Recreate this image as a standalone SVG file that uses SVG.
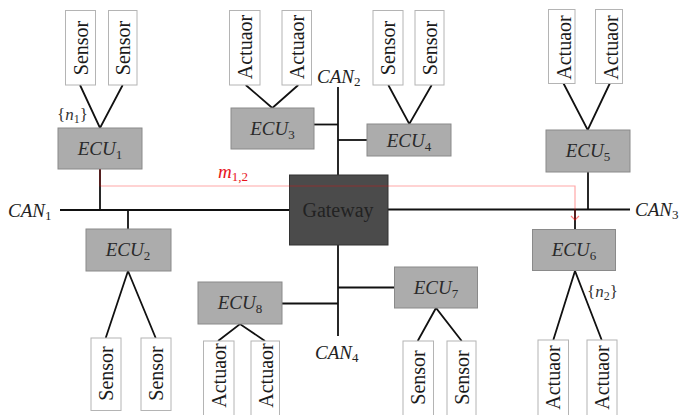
<svg xmlns="http://www.w3.org/2000/svg" width="697" height="415" viewBox="0 0 697 415" font-family="'Liberation Serif', 'DejaVu Serif', serif">
  <defs>
    <style>
      text { font-family: 'Liberation Serif', 'DejaVu Serif', serif; }
      .dev { fill: #ffffff; stroke: #b4b4b4; stroke-width: 1; }
      .dev-t { font-size: 20px; fill: #1a1a1a; text-anchor: middle; }
      .ecu { fill: #acacac; stroke: #8a8a8a; stroke-width: 1; }
      .ecu-t { font-size: 19px; font-style: italic; fill: #2a2a2a; text-anchor: middle; }
      .gw { fill: #4b4b4b; stroke: #333333; stroke-width: 1; }
      .gw-t { font-size: 20px; fill: #222222; text-anchor: middle; }
      .sub { font-style: normal; font-size: 13px; }
      .bus-t { font-size: 19px; font-style: italic; fill: #222222; }
      .set-t { font-size: 17px; fill: #333333; }
      .wire { stroke: #111111; stroke-width: 1.8; fill: none; }
      .msg { stroke: #ff0000; stroke-opacity: 0.35; stroke-width: 1.2; fill: none; }
      .msg-t { font-size: 19px; font-style: italic; fill: #e8141b; }
    </style>
    <marker id="msg-head" markerWidth="10" markerHeight="10" refX="6" refY="5" orient="auto" markerUnits="userSpaceOnUse">
      <polyline points="2,1 6,5 2,9" fill="none" stroke="#ff0000" stroke-opacity="0.5" stroke-width="1.2"/>
    </marker>
  </defs>

  <!-- buses and links -->
  <g id="connectors">
    <!-- CAN buses -->
    <line class="wire" x1="60" y1="210" x2="289" y2="210"/>
    <line class="wire" x1="388" y1="209.5" x2="630" y2="209.5"/>
    <line class="wire" x1="338" y1="87" x2="338" y2="175"/>
    <line class="wire" x1="338" y1="245" x2="338" y2="336"/>
    <!-- ECU stubs -->
    <line class="wire" x1="100" y1="169" x2="100" y2="210"/>
    <line class="wire" x1="128" y1="210" x2="128" y2="229"/>
    <line class="wire" x1="314" y1="124.5" x2="338" y2="124.5"/>
    <line class="wire" x1="338" y1="140" x2="367" y2="140"/>
    <line class="wire" x1="588" y1="172" x2="588" y2="209.5"/>
    <line class="wire" x1="575" y1="209.5" x2="575" y2="229"/>
    <line class="wire" x1="338" y1="287.5" x2="394" y2="287.5"/>
    <line class="wire" x1="282" y1="303.5" x2="338" y2="303.5"/>
    <!-- ECU to sensors / actuators -->
    <polyline class="wire" points="80,85 100,128 122.7,85"/>
    <polyline class="wire" points="245.7,85 272.3,108 298.3,85"/>
    <polyline class="wire" points="388.3,85 409.3,124 431.7,85"/>
    <polyline class="wire" points="563.3,83 587.7,130 610,83"/>
    <polyline class="wire" points="105.7,338 128,271 155.7,338"/>
    <polyline class="wire" points="218,341 240,324 265,341"/>
    <polyline class="wire" points="417.7,341 436,308 461.7,341"/>
    <polyline class="wire" points="553.3,340 575,271 601.7,340"/>
  </g>

  <!-- gateway -->
  <g id="gateway">
    <rect class="gw" x="289.5" y="175" width="98.5" height="70"/>
    <text class="gw-t" x="338" y="217">Gateway</text>
  </g>

  <!-- ECUs -->
  <g id="ecu1">
    <rect class="ecu" x="58" y="128" width="84" height="41"/>
    <text class="ecu-t" x="100" y="155">ECU<tspan class="sub" dy="4">1</tspan></text>
  </g>
  <g id="ecu2">
    <rect class="ecu" x="86" y="229" width="85" height="42"/>
    <text class="ecu-t" x="128" y="256">ECU<tspan class="sub" dy="4">2</tspan></text>
  </g>
  <g id="ecu3">
    <rect class="ecu" x="231" y="108" width="83" height="41"/>
    <text class="ecu-t" x="272.5" y="135">ECU<tspan class="sub" dy="4">3</tspan></text>
  </g>
  <g id="ecu4">
    <rect class="ecu" x="367" y="124" width="84" height="32"/>
    <text class="ecu-t" x="409" y="146.5">ECU<tspan class="sub" dy="4">4</tspan></text>
  </g>
  <g id="ecu5">
    <rect class="ecu" x="546" y="130" width="84" height="42"/>
    <text class="ecu-t" x="588" y="157">ECU<tspan class="sub" dy="4">5</tspan></text>
  </g>
  <g id="ecu6">
    <rect class="ecu" x="532.5" y="229.5" width="83" height="41"/>
    <text class="ecu-t" x="574" y="256">ECU<tspan class="sub" dy="4">6</tspan></text>
  </g>
  <g id="ecu7">
    <rect class="ecu" x="394.5" y="267" width="83" height="41"/>
    <text class="ecu-t" x="436" y="294">ECU<tspan class="sub" dy="4">7</tspan></text>
  </g>
  <g id="ecu8">
    <rect class="ecu" x="198" y="282" width="84" height="42"/>
    <text class="ecu-t" x="240" y="309">ECU<tspan class="sub" dy="4">8</tspan></text>
  </g>

  <!-- sensors and actuators -->
  <g id="sensor-1a">
    <rect class="dev" x="65.5" y="10.5" width="30" height="74.5"/>
    <text class="dev-t" transform="translate(87.5,48) rotate(-90)">Sensor</text>
  </g>
  <g id="sensor-1b">
    <rect class="dev" x="108.5" y="10.5" width="28.5" height="74.5"/>
    <text class="dev-t" transform="translate(130,48) rotate(-90)">Sensor</text>
  </g>
  <g id="actuator-3a">
    <rect class="dev" x="229.5" y="10.5" width="30.5" height="74.5"/>
    <text class="dev-t" transform="translate(252,47) rotate(-90)">Actuaor</text>
  </g>
  <g id="actuator-3b">
    <rect class="dev" x="282" y="10.5" width="29.5" height="74.5"/>
    <text class="dev-t" transform="translate(304,47) rotate(-90)">Actuaor</text>
  </g>
  <g id="sensor-4a">
    <rect class="dev" x="373" y="10.5" width="30" height="74.5"/>
    <text class="dev-t" transform="translate(395,48) rotate(-90)">Sensor</text>
  </g>
  <g id="sensor-4b">
    <rect class="dev" x="415" y="10.5" width="29" height="74.5"/>
    <text class="dev-t" transform="translate(436.5,48) rotate(-90)">Sensor</text>
  </g>
  <g id="actuator-5a">
    <rect class="dev" x="548.5" y="9.5" width="26.5" height="74"/>
    <text class="dev-t" transform="translate(570.5,47.5) rotate(-90)">Actuaor</text>
  </g>
  <g id="actuator-5b">
    <rect class="dev" x="595.5" y="9.5" width="27" height="74"/>
    <text class="dev-t" transform="translate(617.5,47.5) rotate(-90)">Actuaor</text>
  </g>
  <g id="sensor-2a">
    <rect class="dev" x="91" y="338" width="30" height="72.5"/>
    <text class="dev-t" transform="translate(113,373.5) rotate(-90)">Sensor</text>
  </g>
  <g id="sensor-2b">
    <rect class="dev" x="141" y="338" width="30" height="72.5"/>
    <text class="dev-t" transform="translate(163,373.5) rotate(-90)">Sensor</text>
  </g>
  <g id="actuator-8a">
    <rect class="dev" x="203.5" y="341" width="30.5" height="80"/>
    <text class="dev-t" transform="translate(226,375.5) rotate(-90)">Actuaor</text>
  </g>
  <g id="actuator-8b">
    <rect class="dev" x="251" y="341" width="28.5" height="80"/>
    <text class="dev-t" transform="translate(272.5,375.5) rotate(-90)">Actuaor</text>
  </g>
  <g id="sensor-7a">
    <rect class="dev" x="403" y="341" width="30.5" height="80"/>
    <text class="dev-t" transform="translate(425,377.5) rotate(-90)">Sensor</text>
  </g>
  <g id="sensor-7b">
    <rect class="dev" x="447" y="341" width="29" height="80"/>
    <text class="dev-t" transform="translate(468.5,377.5) rotate(-90)">Sensor</text>
  </g>
  <g id="actuator-6a">
    <rect class="dev" x="538" y="340" width="30.5" height="80"/>
    <text class="dev-t" transform="translate(560,377.5) rotate(-90)">Actuaor</text>
  </g>
  <g id="actuator-6b">
    <rect class="dev" x="587" y="340" width="30" height="80"/>
    <text class="dev-t" transform="translate(609,377.5) rotate(-90)">Actuaor</text>
  </g>

  <!-- bus labels -->
  <g id="bus-labels">
    <text class="bus-t" x="8" y="217">CAN<tspan class="sub" font-size="14" dy="3">1</tspan></text>
    <text class="bus-t" x="317" y="83">CAN<tspan class="sub" font-size="14" dy="3">2</tspan></text>
    <text class="bus-t" x="635" y="216">CAN<tspan class="sub" font-size="14" dy="3">3</tspan></text>
    <text class="bus-t" x="315" y="359">CAN<tspan class="sub" font-size="14" dy="3">4</tspan></text>
  </g>

  <!-- signal sets -->
  <g id="set-labels">
    <text class="set-t" x="57" y="120">{<tspan font-style="italic">n</tspan><tspan font-size="12" dy="3">1</tspan><tspan dy="-3">}</tspan></text>
    <text class="set-t" x="587" y="297">{<tspan font-style="italic">n</tspan><tspan font-size="12" dy="3">2</tspan><tspan dy="-3">}</tspan></text>
  </g>

  <!-- message route m1,2 -->
  <g id="message">
    <polyline class="msg" points="100,169 100,186 575,186 575,220" marker-end="url(#msg-head)"/>
    <text class="msg-t" x="218" y="177.5">m<tspan class="sub" dy="3">1,2</tspan></text>
  </g>
</svg>
